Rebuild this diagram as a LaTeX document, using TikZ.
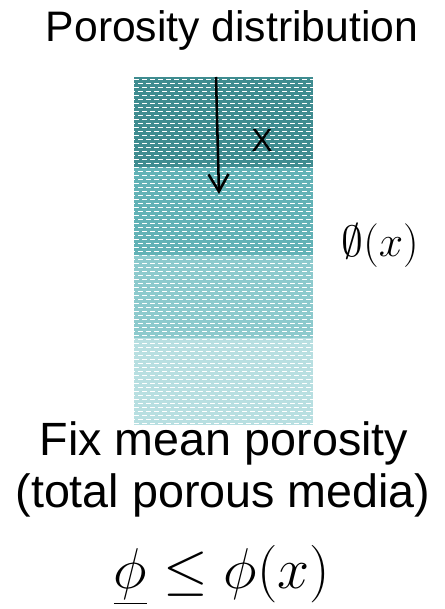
\documentclass[tikz,border=0pt]{standalone}
\usepackage{fontspec}
\setmainfont{Liberation Sans}
\usetikzlibrary{arrows.meta}
\definecolor{bandA}{HTML}{3F8C90}
\definecolor{bandB}{HTML}{62B2B6}
\definecolor{bandC}{HTML}{8DCACD}
\definecolor{bandD}{HTML}{B8DFE1}
\tikzset{
  lbl/.style={inner sep=0pt, anchor=base},
  brick/.style={white, line width=1.45pt, dash pattern=on 4.1pt off 1.9pt},
  mathbig/.style={inner sep=0pt, anchor=base, font=\fontsize{20.74pt}{25pt}\selectfont},
}
\begin{document}
\begin{tikzpicture}[x=0.75pt,y=-0.75pt]
\useasboundingbox (0,0) rectangle (444,609);
\fill[white] (0,0) rectangle (444,609);
% bands
\fill[bandA] (134,77) rectangle (313,167);
\fill[bandB] (134,167) rectangle (313,255);
\fill[bandC] (134,255) rectangle (313,338);
\fill[bandD] (134,338) rectangle (313,425);
% brick pattern
\begin{scope}
\clip (134,77) rectangle (313,425);
\foreach \i in {0,...,86}{
  \pgfmathsetmacro{\yy}{79.5+4*\i}
  \pgfmathsetmacro{\ph}{mod(\i,2)*3}
  \draw[brick, dash phase=\ph pt] (134,\yy) -- (313,\yy);
}
\end{scope}
% title
\node[lbl, font=\fontsize{32pt}{38pt}\selectfont] (title) at (232,42) {Porosity distribution};
% arrow
\coordinate (arrS) at (216,77);
\coordinate (arrE) at (219,194);
\draw[line width=1.9pt, -{Straight Barb[length=13pt,width=15pt,line width=1.9pt]}] (arrS) -- (arrE);
\node[lbl, font=\fontsize{24pt}{28pt}\selectfont] (xl) at (262,152) {X};
% phi(x)
\node[mathbig, scale=1.58] (phix) at (380,257) {$\emptyset(x)$};
% bottom text
\node[lbl, font=\fontsize{35pt}{42pt}\selectfont] (fix) at (224,455) {Fix mean porosity};
\node[lbl, font=\fontsize{35pt}{42pt}\selectfont] (tot) at (223,507) {(total porous media)};
\node[mathbig, scale=2.08] (ineq) at (222,588) {$\underline{\phi}\le\phi(x)$};
\end{tikzpicture}
\end{document}
